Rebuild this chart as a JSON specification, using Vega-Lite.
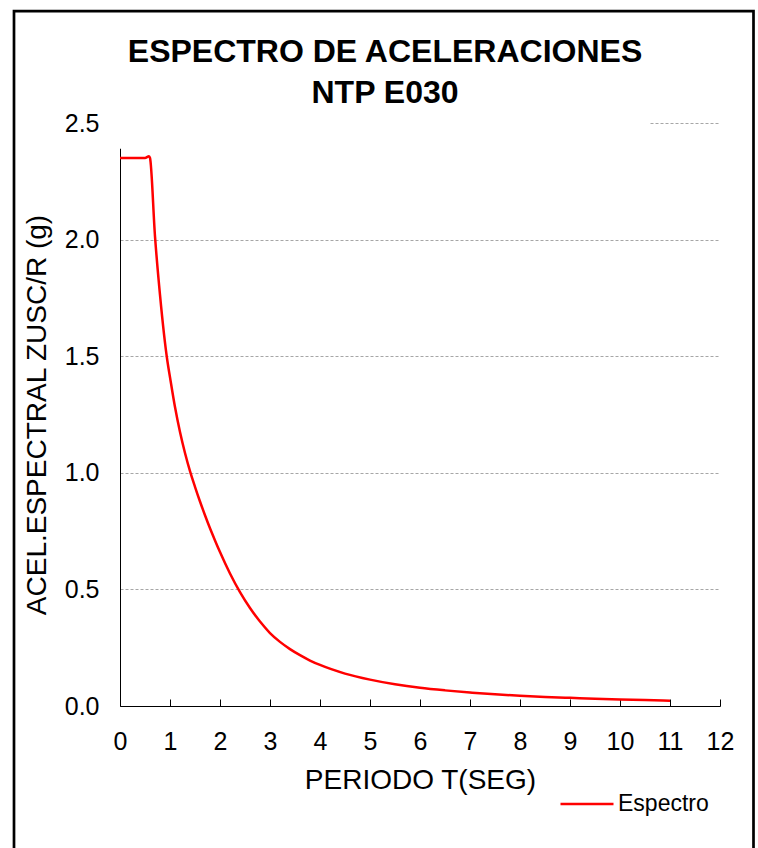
{
  "$schema": "https://vega.github.io/schema/vega-lite/v6.json",
  "width": 600,
  "height": 583,
  "autosize": "none",
  "padding": {"left": 120, "top": 123, "right": 38, "bottom": 142},
  "background": "white",
  "config": {
    "view": {"stroke": null},
    "font": "Liberation Sans"
  },
  "title": {
    "text": ["ESPECTRO DE ACELERACIONES", "NTP E030"],
    "fontSize": 32,
    "fontWeight": "bold",
    "font": "Liberation Sans",
    "color": "black",
    "anchor": "middle",
    "frame": "group",
    "dx": -35,
    "baseline": "alphabetic",
    "lineHeight": 41,
    "offset": -125
  },
  "layer": [
    {
      "data": {
        "values": [
          {"T": 0, "Sa": 2.35, "serie": "Espectro"},
          {"T": 0.1, "Sa": 2.35, "serie": "Espectro"},
          {"T": 0.2, "Sa": 2.35, "serie": "Espectro"},
          {"T": 0.3, "Sa": 2.35, "serie": "Espectro"},
          {"T": 0.4, "Sa": 2.35, "serie": "Espectro"},
          {"T": 0.5, "Sa": 2.35, "serie": "Espectro"},
          {"T": 0.58, "Sa": 2.357, "serie": "Espectro"},
          {"T": 0.6, "Sa": 2.35, "serie": "Espectro"},
          {"T": 0.7, "Sa": 2.014, "serie": "Espectro"},
          {"T": 0.8, "Sa": 1.763, "serie": "Espectro"},
          {"T": 0.95, "Sa": 1.476, "serie": "Espectro"},
          {"T": 1.0, "Sa": 1.41, "serie": "Espectro"},
          {"T": 1.1, "Sa": 1.282, "serie": "Espectro"},
          {"T": 1.2, "Sa": 1.175, "serie": "Espectro"},
          {"T": 1.3, "Sa": 1.085, "serie": "Espectro"},
          {"T": 1.4, "Sa": 1.007, "serie": "Espectro"},
          {"T": 1.5, "Sa": 0.94, "serie": "Espectro"},
          {"T": 1.6, "Sa": 0.877, "serie": "Espectro"},
          {"T": 1.7, "Sa": 0.818, "serie": "Espectro"},
          {"T": 1.8, "Sa": 0.762, "serie": "Espectro"},
          {"T": 1.9, "Sa": 0.71, "serie": "Espectro"},
          {"T": 2.0, "Sa": 0.66, "serie": "Espectro"},
          {"T": 2.2, "Sa": 0.568, "serie": "Espectro"},
          {"T": 2.4, "Sa": 0.488, "serie": "Espectro"},
          {"T": 2.6, "Sa": 0.42, "serie": "Espectro"},
          {"T": 2.8, "Sa": 0.362, "serie": "Espectro"},
          {"T": 3.0, "Sa": 0.313, "serie": "Espectro"},
          {"T": 3.2, "Sa": 0.275, "serie": "Espectro"},
          {"T": 3.4, "Sa": 0.244, "serie": "Espectro"},
          {"T": 3.6, "Sa": 0.218, "serie": "Espectro"},
          {"T": 3.8, "Sa": 0.195, "serie": "Espectro"},
          {"T": 4.0, "Sa": 0.176, "serie": "Espectro"},
          {"T": 4.5, "Sa": 0.139, "serie": "Espectro"},
          {"T": 5.0, "Sa": 0.113, "serie": "Espectro"},
          {"T": 5.5, "Sa": 0.093, "serie": "Espectro"},
          {"T": 6.0, "Sa": 0.078, "serie": "Espectro"},
          {"T": 6.5, "Sa": 0.067, "serie": "Espectro"},
          {"T": 7.0, "Sa": 0.058, "serie": "Espectro"},
          {"T": 7.5, "Sa": 0.05, "serie": "Espectro"},
          {"T": 8.0, "Sa": 0.044, "serie": "Espectro"},
          {"T": 8.5, "Sa": 0.039, "serie": "Espectro"},
          {"T": 9.0, "Sa": 0.035, "serie": "Espectro"},
          {"T": 9.5, "Sa": 0.031, "serie": "Espectro"},
          {"T": 10.0, "Sa": 0.028, "serie": "Espectro"},
          {"T": 10.5, "Sa": 0.026, "serie": "Espectro"},
          {"T": 11.0, "Sa": 0.023, "serie": "Espectro"}
        ]
      },
      "mark": {"type": "line", "interpolate": "monotone", "strokeWidth": 2.5},
      "encoding": {
        "x": {
          "field": "T",
          "type": "quantitative",
          "scale": {"domain": [0, 12], "nice": false, "zero": false},
          "axis": {
            "title": "PERIODO T(SEG)",
            "values": [0, 1, 2, 3, 4, 5, 6, 7, 8, 9, 10, 11, 12],
            "grid": false,
            "tickSize": -7,
            "tickColor": "black",
            "tickWidth": 1,
            "domainColor": "black",
            "domainWidth": 1,
            "labelFontSize": 25,
            "labelColor": "black",
            "labelPadding": 30,
            "labelFlush": false,
            "labelOverlap": false,
            "titleFontSize": 28,
            "titleFontWeight": "normal",
            "titleColor": "black",
            "titleY": 82,
            "titleX": 300,
            "titleBaseline": "alphabetic",
            "titleAlign": "center"
          }
        },
        "y": {
          "field": "Sa",
          "type": "quantitative",
          "scale": {"domain": [0, 2.5], "nice": false, "zero": false},
          "axis": {
            "title": "ACEL.ESPECTRAL ZUSC/R  (g)",
            "values": [0, 0.5, 1, 1.5, 2, 2.5],
            "format": ".1f",
            "grid": true,
            "gridDash": [3, 2],
            "gridColor": "#a6a6a6",
            "gridWidth": 1,
            "ticks": false,
            "domainColor": "black",
            "domainWidth": 1,
            "labelFontSize": 25,
            "labelColor": "black",
            "labelPadding": 21,
            "labelOverlap": false,
            "labelFlush": false,
            "titleFontSize": 28,
            "titleFontWeight": "normal",
            "titleColor": "black",
            "titleAngle": 270,
            "titleX": -75,
            "titleY": 291.5,
            "titleBaseline": "alphabetic",
            "titleAlign": "center"
          }
        },
        "color": {
          "field": "serie",
          "type": "nominal",
          "scale": {"domain": ["Espectro"], "range": ["#ff0000"]},
          "legend": {
            "orient": "none",
            "legendX": 439,
            "legendY": 653,
            "title": null,
            "padding": 0,
            "symbolType": "stroke",
            "symbolSize": 2809,
            "symbolStrokeWidth": 2.5,
            "labelFontSize": 23,
            "labelColor": "black",
            "labelOffset": 3
          }
        }
      }
    },
    {
      "data": {"values": [{}]},
      "mark": {"type": "rect", "fill": "white", "strokeWidth": 0},
      "encoding": {
        "x": {"datum": -0.1, "type": "quantitative"},
        "x2": {"datum": 10.6},
        "y": {"datum": 2.39, "type": "quantitative"},
        "y2": {"datum": 2.56}
      }
    },
    {
      "data": {"values": [{}]},
      "mark": {"type": "rect", "filled": false, "color": "black", "strokeWidth": 2.7},
      "encoding": {
        "x": {"datum": -2.12, "type": "quantitative"},
        "x2": {"datum": 12.67},
        "y": {"datum": -0.7, "type": "quantitative"},
        "y2": {"datum": 2.98}
      }
    }
  ]
}
